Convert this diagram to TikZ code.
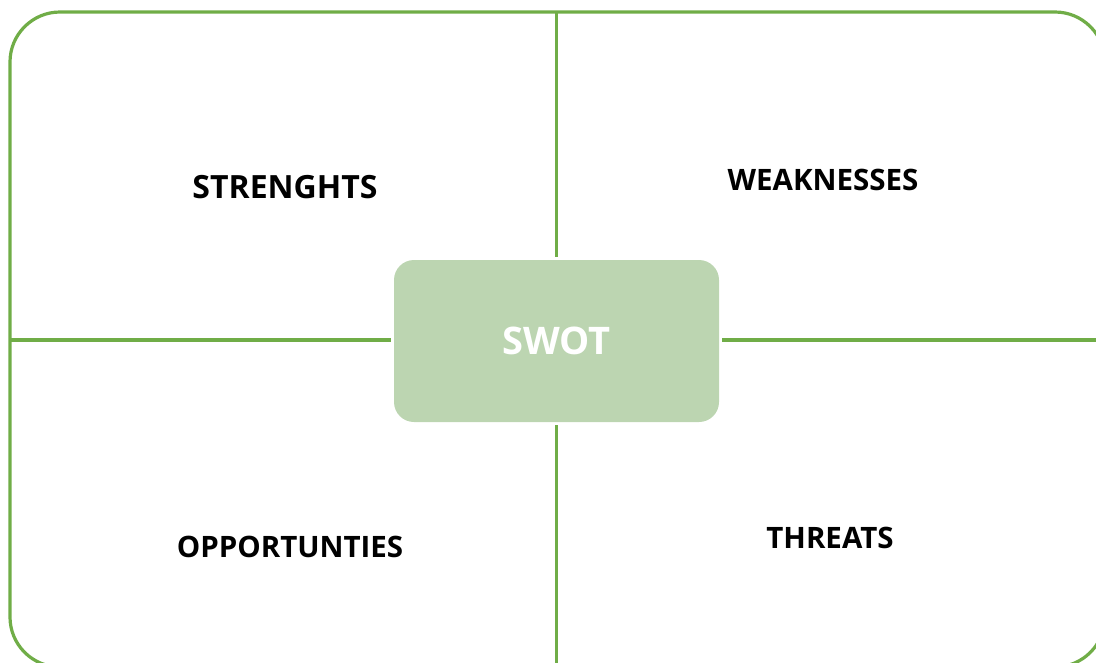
\documentclass[tikz,border=0pt]{standalone}
\usepackage{fontspec}
\setmainfont{Open Sans}
\definecolor{swotline}{RGB}{112,173,71}
\definecolor{swotfill}{RGB}{188,213,177}
\begin{document}
\begin{tikzpicture}[
	x=1pt, y=-1pt,
	frame/.style={ swotline, line width=3.2pt },
	centre/.style={ rounded corners=20pt, fill=swotfill, text=white, font=\fontsize{38}{44}\selectfont\bfseries, minimum width=325pt, minimum height=162pt, inner sep=0pt, outer sep=3pt },
	quarter/.style={ font=\fontsize{29.5}{35}\selectfont\bfseries, inner sep=0pt },
	quarterbig/.style={ quarter, font=\fontsize{32}{38}\selectfont\bfseries }
]
\useasboundingbox (0,0) rectangle (1096,662);
\clip (0,0) rectangle (1096,662);

\draw[frame, rounded corners=50pt] (10,12) rectangle (1105,667);

\node at (556.5,341) (swot) [centre] {SWOT};

\coordinate (top) at (556.5,12);
\coordinate (bottom) at (556.5,667);
\coordinate (left) at (10,340);
\coordinate (right) at (1105,340);
\draw[frame] (top) -- (swot.north);
\draw[frame] (swot.south) -- (bottom);
\draw[frame] (left) -- (swot.west |- left);
\draw[frame] (swot.east |- right) -- (right);

\node at (285,187) (strengths) [quarterbig] {STRENGHTS};
\node at (823,180) (weaknesses) [quarter] {WEAKNESSES};
\node at (290,547) (opportunities) [quarter] {OPPORTUNTIES};
\node at (830,538) (threats) [quarter] {THREATS};

\end{tikzpicture}
\end{document}
